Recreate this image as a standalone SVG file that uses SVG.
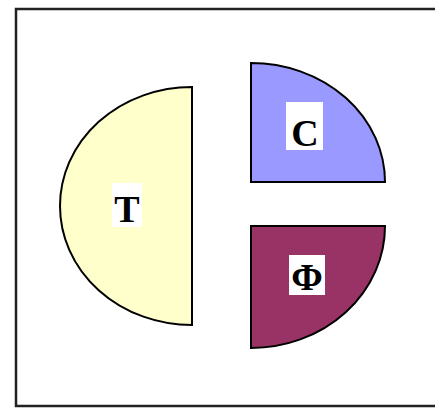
<svg xmlns="http://www.w3.org/2000/svg" width="435" height="408" viewBox="0 0 435 408">
<style>
.sh{stroke:#000;stroke-width:2}
.lb{font-family:"Liberation Serif",serif;font-weight:bold;font-size:38px;text-anchor:middle;fill:#000}
.bx{fill:#fff}
</style>
<rect x="0" y="0" width="435" height="408" fill="#fff"/>
<rect x="16" y="9" width="425" height="397" fill="none" stroke="#222" stroke-width="2.5"/>
<g id="T">
<path class="sh" fill="#FFFFCC" d="M192,87 L192,325 A132,119 0 0 1 192,87 Z"/>
<rect class="bx" x="112" y="183" width="30" height="44"/>
<text class="lb" x="127" y="222">T</text>
</g>
<g id="C">
<path class="sh" fill="#9999FF" d="M251,182 L251,63 A134,119 0 0 1 385,182 Z"/>
<rect class="bx" x="286" y="102" width="37" height="48"/>
<text class="lb" x="305" y="146">C</text>
</g>
<g id="F">
<path class="sh" fill="#993366" d="M251,226 L385,226 A134,122 0 0 1 251,348 Z"/>
<rect class="bx" x="289" y="255" width="36" height="40"/>
<text class="lb" x="307" y="290">Φ</text>
</g>
<g id="connectors"/>
</svg>
